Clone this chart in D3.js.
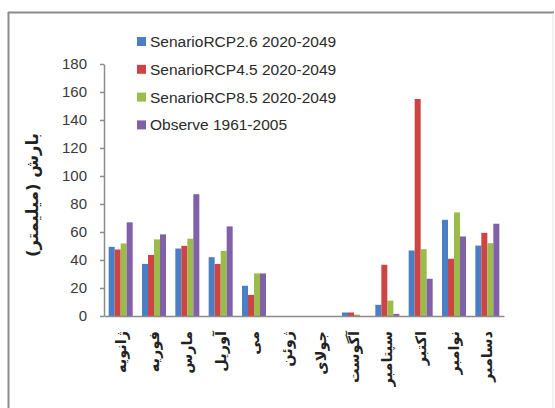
<!DOCTYPE html>
<html>
<head>
<meta charset="utf-8">
<script src="https://cdn.jsdelivr.net/npm/d3@7"></script>
<style>
  html, body { margin: 0; padding: 0; background: #fff; }
  svg { display: block; }
</style>
</head>
<body>
<script>
// Monthly precipitation (mm): three RCP scenarios for 2020-2049 vs. observed 1961-2005
const months = ["ژانویه", "فوریه", "مارس", "آوریل", "می", "ژوئن", "جولای", "آگوست", "سپتامبر", "اکتبر", "نوامبر", "دسامبر"];
const seriesNames = ["SenarioRCP2.6 2020-2049", "SenarioRCP4.5 2020-2049", "SenarioRCP8.5 2020-2049", "Observe 1961-2005"];
const rcp26   = [49.4, 37.2, 48.2, 42.0, 21.6, 0, 0, 2.5, 8.0, 46.8, 68.7, 50.3];
const rcp45   = [47.5, 43.6, 50.1, 37.2, 15.1, 0, 0, 2.5, 36.6, 155.0, 40.9, 59.4];
const rcp85   = [51.8, 54.7, 55.2, 46.5, 30.4, 0, 0, 1.0, 11.0, 47.7, 74.0, 52.0];
const observe = [66.9, 58.3, 87.0, 64.0, 30.4, 0, 0, 0, 1.5, 26.6, 56.8, 65.9];
const yTicks = [0, 20, 40, 60, 80, 100, 120, 140, 160, 180];
const colors = ["#4a7fc6", "#cc4444", "#9bbb4b", "#8060a8"];
const yTitle = "بارش (میلیمتر)";

const values = [rcp26, rcp45, rcp85, observe];

const W = 555, H = 408;
const svg = d3.select("body").append("svg").attr("width", W).attr("height", H);

// outer frame
svg.append("line").attr("x1", 8).attr("x2", 554).attr("y1", 12.5).attr("y2", 12.5)
  .attr("stroke", "#8c8c8c").attr("stroke-width", 2);
svg.append("line").attr("x1", 8.5).attr("x2", 8.5).attr("y1", 12).attr("y2", H)
  .attr("stroke", "#8c8c8c").attr("stroke-width", 2);
svg.append("line").attr("x1", 553).attr("x2", 553).attr("y1", 13).attr("y2", H)
  .attr("stroke", "#e4e4e4").attr("stroke-width", 1);

const plotLeft = 104, plotRight = 504, plotTop = 64, plotBottom = 316;

const y = d3.scaleLinear().domain([0, 180]).range([plotBottom, plotTop]);
const x = d3.scaleBand().domain(months).range([plotLeft, plotRight])
  .paddingInner(0.28).paddingOuter(0.14);
const xs = d3.scaleBand().domain(d3.range(seriesNames.length)).range([0, x.bandwidth()]);

// bars
const groups = svg.append("g").selectAll("g").data(months).join("g")
  .attr("transform", d => `translate(${x(d)},0)`);
groups.selectAll("rect")
  .data((m, i) => values.map((s, k) => ({ k, v: s[i] })))
  .join("rect")
  .attr("x", d => xs(d.k))
  .attr("width", xs.bandwidth())
  .attr("y", d => y(d.v))
  .attr("height", d => plotBottom - y(d.v))
  .attr("fill", d => colors[d.k]);

// y axis
const yAxis = svg.append("g").attr("transform", `translate(${plotLeft},0)`)
  .call(d3.axisLeft(y).tickValues(yTicks).tickSize(4).tickSizeOuter(0).tickPadding(13));
yAxis.select(".domain").attr("stroke", "#8c8c8c").attr("stroke-width", 1.5);
yAxis.selectAll(".tick line").attr("stroke", "#8c8c8c").attr("stroke-width", 1.5);
yAxis.selectAll(".tick text")
  .attr("font-family", "Liberation Sans, Arial, sans-serif")
  .attr("font-size", 15).attr("fill", "#3a3a3a");

// x axis
const xAxis = svg.append("g").attr("transform", `translate(0,${plotBottom})`)
  .call(d3.axisBottom(x).tickSize(0).tickSizeOuter(0).tickFormat(""));
xAxis.select(".domain").attr("stroke", "#8c8c8c").attr("stroke-width", 1.5);

// month labels, written vertically
svg.append("g").selectAll("text").data(months).join("text")
  .attr("transform", d => `translate(${x(d) + x.bandwidth() / 2},331) rotate(-90)`)
  .attr("text-anchor", "end")
  .attr("dy", "0.35em")
  .attr("font-family", "DejaVu Sans, Noto Sans, sans-serif")
  .attr("font-size", 14.5)
  .attr("font-weight", "bold")
  .attr("fill", "#222")
  .text(d => d);

// y axis title
svg.append("text")
  .attr("transform", "translate(32,195) rotate(-90)")
  .attr("text-anchor", "middle")
  .attr("direction", "rtl")
  .attr("dy", "0.35em")
  .attr("font-family", "DejaVu Sans, Noto Sans, sans-serif")
  .attr("font-size", 16.5)
  .attr("font-weight", "bold")
  .attr("fill", "#222")
  .text(yTitle);

// legend
const legend = svg.append("g").selectAll("g").data(seriesNames).join("g")
  .attr("transform", (d, i) => `translate(137,${41.5 + i * 27.8})`);
legend.append("rect").attr("x", 0).attr("y", -4.5).attr("width", 9).attr("height", 9)
  .attr("fill", (d, i) => colors[i]);
legend.append("text").attr("x", 13).attr("dy", "0.36em")
  .attr("font-family", "Liberation Sans, Arial, sans-serif")
  .attr("font-size", 15.5).attr("fill", "#2a2a2a")
  .text(d => d);
</script>
</body>
</html>
